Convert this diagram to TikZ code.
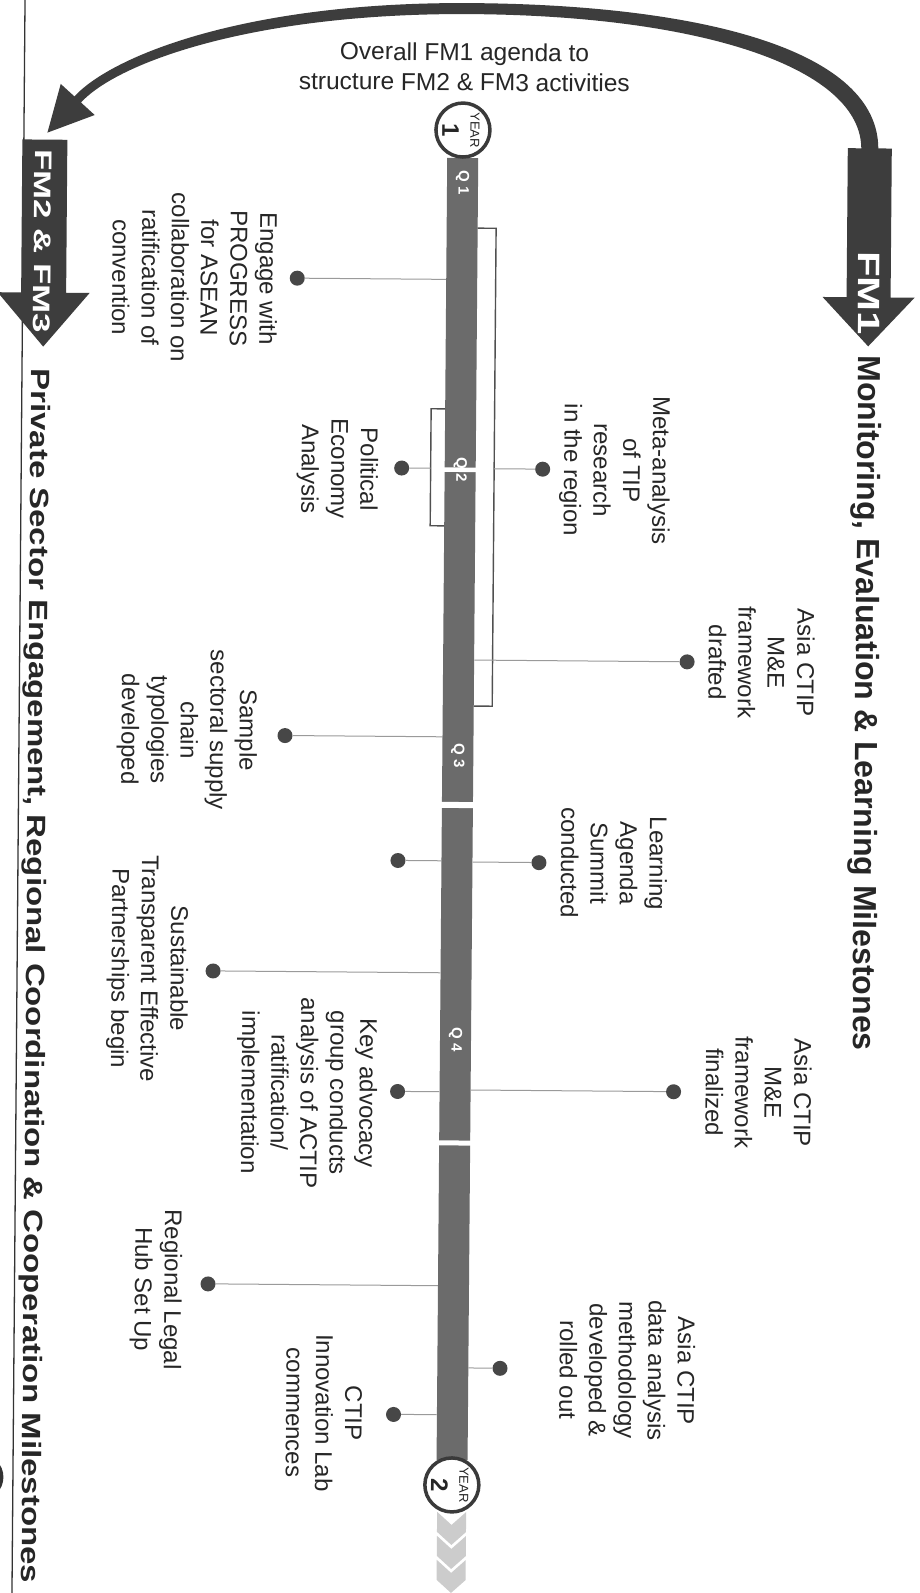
\documentclass[tikz,border=0pt]{standalone}
\usepackage{fontspec}
\setmainfont{Liberation Sans}
\newfontfamily\wideA[FakeStretch=1.242]{Liberation Sans}
\newfontfamily\wideB[FakeStretch=1.45]{Liberation Sans}
\newfontfamily\wideC[FakeStretch=1.35]{Liberation Sans}
\usetikzlibrary{calc}
\definecolor{arrowgray}{HTML}{3D3D3D}
\definecolor{bargray}{HTML}{6B6B6B}
\definecolor{dotgray}{HTML}{474747}
\definecolor{linegray}{HTML}{9A9A9A}
\definecolor{brackgray}{HTML}{505050}
\definecolor{chevgray}{HTML}{CCCCCC}
\definecolor{ringgray}{HTML}{3A3A3A}
\definecolor{txtgray}{HTML}{262626}
\tikzset{
  mtext/.style={rotate=-90, align=center, inner sep=0pt, text=txtgray, font=\fontsize{24}{29.5}\selectfont},
  dot/.style={circle, fill=dotgray, inner sep=0pt, minimum size=15pt},
  conn/.style={draw=linegray, line width=1pt},
  brack/.style={draw=brackgray, line width=1.4pt},
  qlab/.style={rotate=-90, inner sep=0pt, text=white, font=\bfseries\fontsize{15}{18}\selectfont},
  yearring/.style={circle, draw=ringgray, line width=3.5pt, fill=white, minimum size=54pt, inner sep=0pt},
  yeartxt/.style={rotate=-90, inner sep=0pt, text=txtgray, font=\fontsize{13}{15}\selectfont},
  yearnum/.style={rotate=-90, inner sep=0pt, text=txtgray, font=\bfseries\fontsize{24}{28}\selectfont},
  fmshape/.style={fill=arrowgray},
  chev/.style={fill=chevgray},
  barstyle/.style={fill=bargray, inner sep=0pt, minimum width=31pt, minimum height=1302pt},
}
\begin{document}
\begin{tikzpicture}[x=1pt,y=-1pt]
\useasboundingbox (0,0) rectangle (920,1593);
\fill[white] (0,0) rectangle (920,1593);
\clip (0,0) rectangle (920,1593);
\begin{scope}[rotate around={-0.47:(460,796)}, transform shape]
  % page edge line
  \draw[line width=1.3pt, black!80] (18.5,-30) -- (18.5,1630);
  \draw[line width=4pt, black!80] (-14,1481) circle (21);
  % curved arrow from FM1 to FM2
  \fill[fmshape] (873,146) .. controls (873,48) and (700,3) .. (466,3)
     .. controls (240,3) and (105.5,58.7) .. (68.7,99.6)
     -- (54.9,87.2) -- (42,136) -- (89.1,118) -- (75.3,105.6)
     .. controls (112.1,64.7) and (250,14) .. (466,14)
     .. controls (700,14) and (856,66) .. (856,146) -- cycle;
  % FM1 block arrow
  \fill[fmshape] (842.5,145) -- (886.5,145) -- (886.5,294) -- (910.5,294)
     -- (864.5,343) -- (818.5,294) -- (842.5,294) -- cycle;
  \node[rotate=-90, inner sep=0pt, text=white, font=\wideC\bfseries\fontsize{31}{36}\selectfont] (fm1) at (865,290) {FM1};
  % FM2 & FM3 block arrow
  \fill[fmshape] (17,143) -- (62,143) -- (62,296) -- (85.5,296)
     -- (39.5,350) -- (-6.5,296) -- (17,296) -- cycle;
  \node[rotate=-90, inner sep=0pt, text=white, font=\wideB\bfseries\fontsize{24}{28}\selectfont] (fm2) at (38,245) {FM2 \& FM3};
  % top caption
  \node[align=center, inner sep=0pt, text=txtgray, font=\fontsize{24.5}{30}\selectfont] (agenda) at (458.5,66.8) {Overall FM1 agenda to\\structure FM2 \& FM3 activities};
  % titles
  \node[rotate=-90, anchor=base west, inner sep=0pt, text=txtgray, font=\bfseries\fontsize{32}{38}\selectfont] (titleR) at (855,352) {Monitoring, Evaluation \& Learning Milestones};
  \node[rotate=-90, anchor=base west, inner sep=0pt, text=txtgray, font=\wideA\bfseries\fontsize{26.5}{32}\selectfont] (titleL) at (28,372) {Private Sector Engagement, Regional Coordination \& Cooperation Milestones};
  % chevrons
  \foreach \t in {1512,1536,1560}
    \fill[chev] (443,\t) -- (457.5,\t+13) -- (472,\t) -- (472,\t+20) -- (457.5,\t+33) -- (443,\t+20) -- cycle;
  % timeline bar
  \node[barstyle] (bar) at (457.5,809) {};
  \fill[white] (440,467.5) rectangle (475,472);
  \fill[white] (440,802) rectangle (475,808);
  \fill[white] (440,1140.5) rectangle (475,1145.5);
  \node[qlab] (q1) at (457.5,183) {Q 1};
  \node[qlab] (q2) at (457.5,469.3) {Q 2};
  \node[qlab] (q3) at (457.5,756) {Q 3};
  \node[qlab] (q4) at (457.5,1040) {Q 4};
  % year circles
  \node[yearring] (y1) at (457.5,130) {};
  \node[yeartxt] (y1t) at (469.5,130) {YEAR};
  \node[yearnum] (y1n) at (445,130) {1};
  \node[yearring] (y2) at (457.5,1485) {};
  \node[yeartxt] (y2t) at (469.5,1485) {YEAR};
  \node[yearnum] (y2n) at (445,1485) {2};
  % brackets
  \coordinate (bl1) at (428,409);
  \coordinate (bl2) at (428,526);
  \coordinate (br1) at (491.5,228);
  \coordinate (br2) at (491.5,706);
  \draw[brack] (442,409) -- (bl1) -- (bl2) -- (442,526);
  \draw[brack] (473,228) -- (br1) -- (br2) -- (473,706);
  % dots
  \node[dot] (e1) at (293,279.5) {};
  \node[dot] (pe) at (399,468.5) {};
  \node[dot] (e3) at (284.5,737) {};
  \node[dot] (e4) at (398.5,861) {};
  \node[dot] (e5) at (214.5,973) {};
  \node[dot] (e6) at (400,1092) {};
  \node[dot] (e7) at (212,1286) {};
  \node[dot] (e8) at (398.6,1415) {};
  \node[dot] (m1) at (540,468.5) {};
  \node[dot] (m2) at (686,660) {};
  \node[dot] (m3) at (539.5,862) {};
  \node[dot] (m4) at (676,1090) {};
  \node[dot] (m5) at (504.7,1368) {};
  % connectors
  \foreach \d in {e1,e3,e4,e5,e6,e7,e8}
    \draw[conn] (\d) -- ($(bar.north west)!(\d)!(bar.south west)$);
  \foreach \d in {m2,m3,m4,m5}
    \draw[conn] (\d) -- ($(bar.north east)!(\d)!(bar.south east)$);
  \draw[conn] (pe) -- ($(bl1)!(pe)!(bl2)$);
  \draw[conn] (m1) -- ($(br1)!(m1)!(br2)$);
  % milestone texts
  \node[mtext] (t1) at (190.5,280) {Engage with\\PROGRESS\\for ASEAN\\collaboration on\\ratification of\\convention};
  \node[mtext] (t2) at (334.7,470) {Political\\Economy\\Analysis};
  \node[mtext] (t3) at (186.4,732) {Sample\\sectoral supply\\chain\\typologies\\developed};
  \node[mtext] (t5) at (148.9,971) {Sustainable\\Transparent Effective\\Partnerships begin};
  \node[mtext] (t6) at (309.3,1094) {Key advocacy\\group conducts\\analysis of ACTIP\\ratification/\\implementation};
  \node[mtext] (t7) at (160,1292) {Regional Legal\\Hub Set Up};
  \node[mtext] (t8) at (329,1414) {CTIP\\Innovation Lab\\commences};
  \node[mtext] (u1) at (612,469) {Meta-analysis\\of TIP\\research\\in the region};
  \node[mtext] (u2) at (760.5,660) {Asia CTIP\\M\&E\\framework\\drafted};
  \node[mtext] (u3) at (614.5,862) {Learning\\Agenda\\Summit\\conducted};
  \node[mtext] (u4) at (761,1090) {Asia CTIP\\M\&E\\framework\\finalized};
  \node[mtext] (u5) at (632,1369) {Asia CTIP\\data analysis\\methodology\\developed \&\\rolled out};
\end{scope}
\end{tikzpicture}
\end{document}
